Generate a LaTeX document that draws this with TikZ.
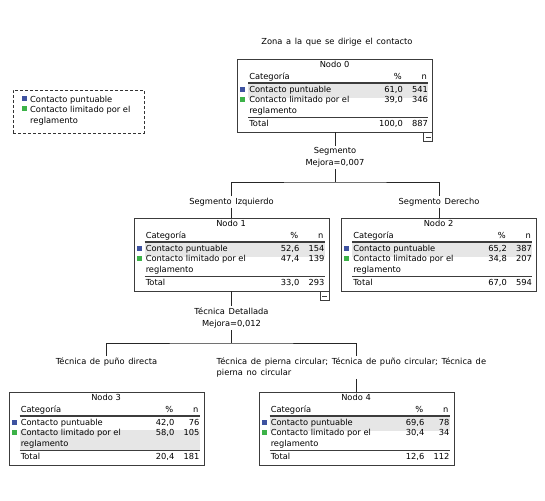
\documentclass[tikz,border=0pt]{standalone}
\usepackage{fontspec}
\setmainfont{DejaVu Sans}
\usetikzlibrary{calc}
\definecolor{catblue}{RGB}{62,82,160}
\definecolor{catgreen}{RGB}{60,178,72}
\definecolor{rowgray}{RGB}{230,230,230}
\definecolor{framegray}{RGB}{60,60,60}
\newcommand{\etiqfont}[1]{\fontsize{8.3}{#1}\selectfont\spaceskip=3.6pt plus 1pt\relax}
\tikzset{
  treebox/.style={draw=framegray, line width=0.9pt, minimum width=195pt, minimum height=73pt, inner sep=0pt},
  cell/.style={inner sep=0pt, text height=6pt, text depth=1.7pt, font=\fontsize{8.3}{9}\selectfont},
  tag/.style={inner sep=1.5pt, align=center, font=\etiqfont{12.5}},
  rule/.style={draw=framegray, line width=1.4pt},
  link/.style={draw=black!85, line width=0.9pt},
  minusbox/.style={draw=framegray, line width=0.8pt, minimum size=9pt, inner sep=0pt, anchor=north east,
    path picture={\draw[line width=0.8pt] ([xshift=2pt]path picture bounding box.west) -- ([xshift=-2pt]path picture bounding box.east);}},
  legendbox/.style={draw=black!80, dash pattern=on 3pt off 2pt, line width=0.8pt, minimum width=131pt, minimum height=43pt, inner sep=0pt}
}
% name, title, % and n of both rows, total, highlighted row
\newcommand{\nodotabla}[9]{%
  \begin{scope}[shift={(#1.north west)}]
    \ifnum#9=1 \fill[rowgray] (11,25) rectangle (191,39);
    \else \fill[rowgray] (11,38) rectangle (191,58); \fi
    \node[cell] (#1-tit) at (97.5,7) {#2};
    \node[cell, anchor=west] (#1-cat) at (12,19) {Categoría};
    \node[cell, anchor=east] (#1-pc) at (165,19) {\%};
    \node[cell, anchor=east] (#1-nc) at (190,19) {n};
    \draw[rule] (11,24.5) -- (191,24.5);
    \fill[catblue] (3,28) rectangle (8,33);
    \node[cell, anchor=west] (#1-a) at (12,32) {Contacto puntuable};
    \node[cell, anchor=east] (#1-ap) at (166,32) {#3};
    \node[cell, anchor=east] (#1-an) at (191,32) {#4};
    \fill[catgreen] (3,38) rectangle (8,43);
    \node[cell, anchor=west] (#1-b) at (12,42) {Contacto limitado por el};
    \node[cell, anchor=west] (#1-b2) at (12,53) {reglamento};
    \node[cell, anchor=east] (#1-bp) at (166,42) {#5};
    \node[cell, anchor=east] (#1-bn) at (191,42) {#6};
    \draw[rule] (11,59) -- (191,59);
    \node[cell, anchor=west] (#1-tot) at (12,66) {Total};
    \node[cell, anchor=east] (#1-tp) at (166,66) {#7};
    \node[cell, anchor=east] (#1-tn) at (191,66) {#8};
  \end{scope}}

\begin{document}
\begin{tikzpicture}[x=1pt, y=-1pt]
\useasboundingbox (0,0) rectangle (545,500);
\node[tag] (titulo) at (337,42) {Zona a la que se dirige el contacto};

\node[legendbox] (leyenda) at (78.5,111.5) {};
\fill[catblue] (22,96) rectangle (27,101);
\node[cell, anchor=west] (ley-a) at (30,100) {Contacto puntuable};
\fill[catgreen] (22,106) rectangle (27,111);
\node[cell, anchor=west] (ley-b) at (30,110) {Contacto limitado por el};
\node[cell, anchor=west] (ley-b2) at (30,121) {reglamento};

\node[treebox] (n0) at (335,95.5) {};
\node[treebox] (n1) at (231.5,254.5) {};
\node[treebox] (n2) at (439,254.5) {};
\node[treebox] (n3) at (106.5,428.5) {};
\node[treebox] (n4) at (356.5,428.5) {};
\nodotabla{n0}{Nodo 0}{61,0}{541}{39,0}{346}{100,0}{887}{1}
\nodotabla{n1}{Nodo 1}{52,6}{154}{47,4}{139}{33,0}{293}{1}
\nodotabla{n2}{Nodo 2}{65,2}{387}{34,8}{207}{67,0}{594}{1}
\nodotabla{n3}{Nodo 3}{42,0}{76}{58,0}{105}{20,4}{181}{2}
\nodotabla{n4}{Nodo 4}{69,6}{78}{30,4}{34}{12,6}{112}{1}
\node[minusbox] (n0-m) at (n0.south east) {};
\node[minusbox] (n1-m) at (n1.south east) {};

\node[tag] (div0) at (335,157.5) {Segmento\\Mejora=0,007};
\node[tag] (ram1) at (231.5,202) {Segmento Izquierdo};
\node[tag] (ram2) at (439,202) {Segmento Derecho};
\node[tag] (div1) at (231.5,318) {Técnica Detallada\\Mejora=0,012};
\node[tag] (ram3) at (106.5,362) {Técnica de puño directa};
\node[tag, anchor=west, align=left, font=\etiqfont{11}] (ram4) at (215,367.5)
  {Técnica de pierna circular; Técnica de puño circular; Técnica de\\pierna no circular};
\coordinate (j0) at (335,182);
\coordinate (j1) at (231.5,343);
\draw[link] (n0.south) -- (div0.north);
\draw[link] (div0.south) -- (j0);
\draw[link] (ram1.north) |- (j0) -| (ram2.north);
\draw[link] (ram1.south) -- (n1.north);
\draw[link] (ram2.south) -- (n2.north);
\draw[link] (n1.south) -- (div1.north);
\draw[link] (div1.south) -- (j1);
\draw[link] (ram3.north) |- (j1) -| (n4.north |- ram4.north);
\draw[link] (n4.north |- ram4.south) -- (n4.north);
\end{tikzpicture}
\end{document}
